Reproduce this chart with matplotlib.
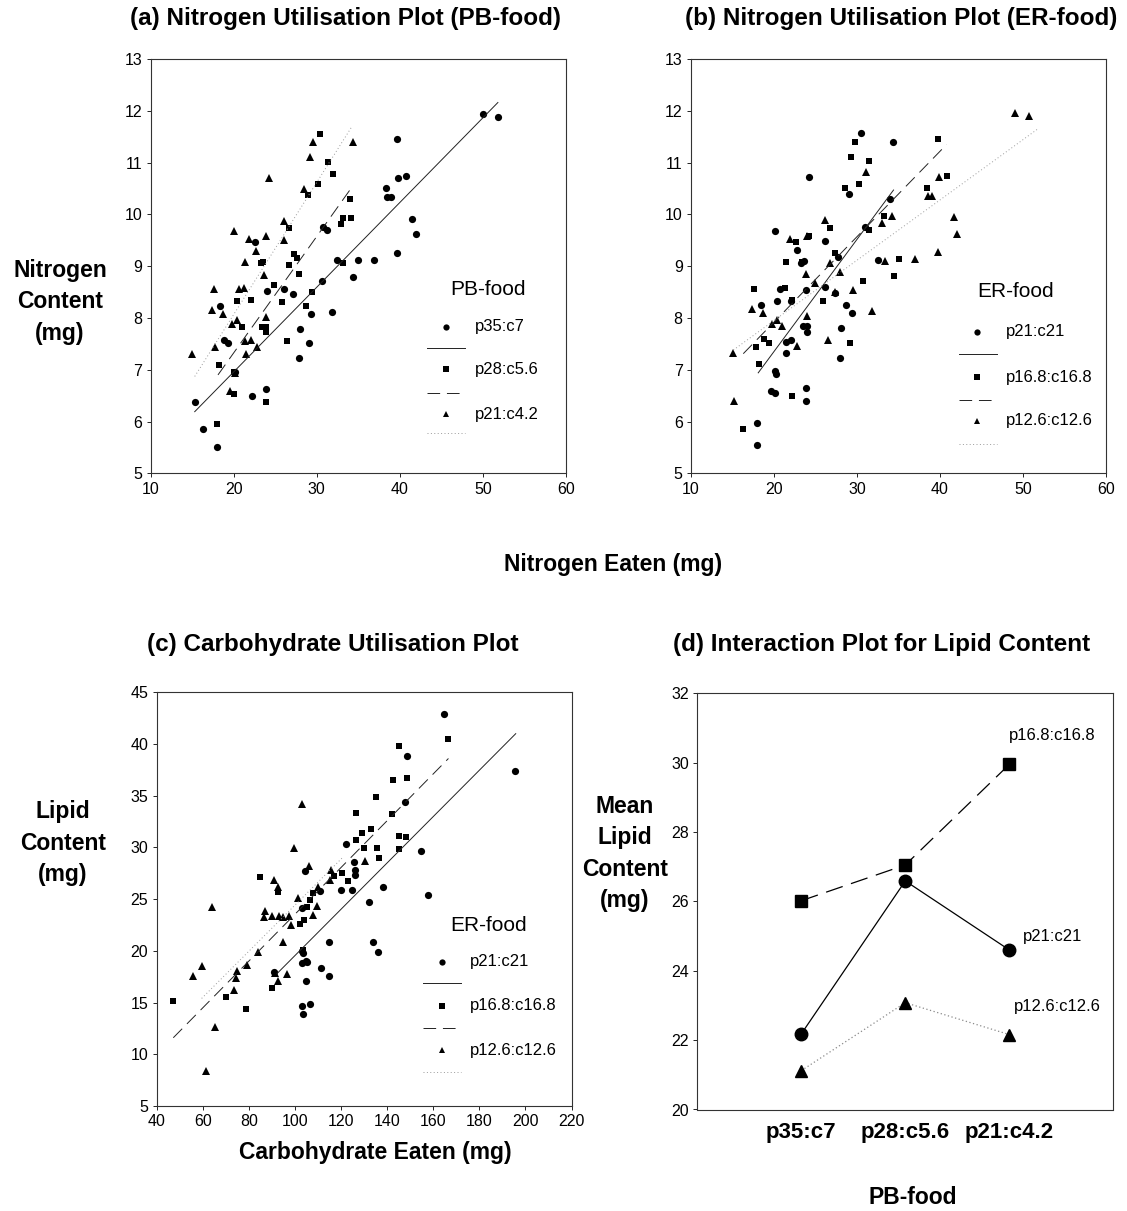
import matplotlib
matplotlib.use("Agg")
import matplotlib.pyplot as plt

plt.rcParams["font.family"] = ["Liberation Sans", "DejaVu Sans"]

W, H = 1127, 1211

# ---- (a) Nitrogen utilisation, PB-food ----
a_p35_x = [50.0, 51.8, 39.6, 39.8, 40.7, 38.3, 38.5, 38.9, 41.5, 42.0, 39.7, 36.9, 34.9, 32.4, 34.4,
           30.8, 31.2, 30.6, 31.8, 29.3, 28.0, 29.0, 27.8, 26.1, 27.1, 24.0, 22.5, 18.4, 18.8, 19.3,
           15.3, 16.3, 18.0, 22.2, 23.9, 20.1]
a_p35_y = [11.94, 11.88, 11.45, 10.70, 10.74, 10.50, 10.33, 10.33, 9.91, 9.62, 9.25, 9.12, 9.12, 9.11, 8.80,
           9.75, 9.70, 8.71, 8.12, 8.07, 7.79, 7.52, 7.22, 8.56, 8.46, 8.52, 9.46, 8.24, 7.58, 7.52,
           6.38, 5.85, 5.51, 6.49, 6.63, 6.96]
a_p28_x = [30.4, 31.3, 32.0, 30.1, 28.9, 34.0, 33.2, 34.1, 32.9, 26.7, 27.3, 27.6, 23.3, 23.5, 26.7,
           27.8, 24.8, 33.2, 29.4, 20.4, 22.1, 25.8, 28.7, 21.0, 23.4, 23.9, 23.9, 26.4, 18.2, 20.0,
           20.0, 23.9, 18.0]
a_p28_y = [11.56, 11.02, 10.78, 10.58, 10.38, 10.29, 9.93, 9.93, 9.82, 9.73, 9.24, 9.16, 9.06, 9.08, 9.03,
           8.85, 8.64, 9.06, 8.51, 8.33, 8.34, 8.30, 8.23, 7.83, 7.83, 7.83, 7.73, 7.55, 7.09, 6.96,
           6.54, 6.38, 5.95]
a_p21_x = [29.6, 34.3, 29.2, 24.2, 28.5, 26.1, 26.1, 20.0, 21.8, 23.9, 22.7, 21.3, 23.7, 17.6, 20.6,
           21.2, 17.4, 18.7, 19.8, 20.4, 23.9, 21.3, 22.1, 17.8, 21.5, 22.8, 15.0, 19.5, 20.2]
a_p21_y = [11.40, 11.40, 11.10, 10.70, 10.49, 9.88, 9.50, 9.67, 9.52, 9.58, 9.30, 9.08, 8.82, 8.55, 8.55,
           8.58, 8.15, 8.07, 7.89, 7.96, 8.02, 7.55, 7.57, 7.43, 7.31, 7.44, 7.31, 6.58, 6.93]
a_fit_x = [[15.3, 51.8], [18.1, 34.2], [15.3, 34.2]]
a_fit_y = [[6.19, 12.16], [6.90, 10.52], [6.87, 11.69]]
a_labels = ["p35:c7", "p28:c5.6", "p21:c4.2"]

# ---- (b) Nitrogen utilisation, ER-food ----
b_p21_x = [30.5, 34.3, 24.2, 29.0, 34.0, 20.1, 31.0, 26.1, 22.8, 23.6, 23.2, 27.7, 32.5, 20.7, 23.9,
           26.2, 27.3, 18.4, 20.4, 22.1, 28.7, 29.4, 23.5, 24.0, 24.0, 28.1, 21.4, 22.1, 21.5, 27.9,
           20.1, 20.2, 19.6, 20.1, 23.9, 23.9, 18.0, 18.0]
b_p21_y = [11.58, 11.40, 10.72, 10.39, 10.29, 9.68, 9.76, 9.49, 9.31, 9.09, 9.07, 9.17, 9.12, 8.55, 8.54,
           8.59, 8.48, 8.25, 8.33, 8.33, 8.25, 8.09, 7.85, 7.85, 7.73, 7.80, 7.54, 7.57, 7.32, 7.23,
           6.98, 6.91, 6.58, 6.55, 6.64, 6.40, 5.97, 5.54]
b_p16_x = [29.7, 39.7, 29.3, 31.4, 40.8, 28.6, 30.2, 38.4, 26.7, 33.3, 31.4, 22.6, 24.2, 27.4, 21.4,
           23.4, 35.0, 30.7, 34.5, 17.6, 21.3, 22.2, 25.9, 18.8, 19.4, 17.8, 29.1, 18.2, 22.2, 16.3]
b_p16_y = [11.40, 11.46, 11.10, 11.03, 10.75, 10.50, 10.59, 10.50, 9.74, 9.96, 9.70, 9.47, 9.59, 9.26, 9.08,
           9.08, 9.13, 8.72, 8.81, 8.55, 8.57, 8.35, 8.32, 7.59, 7.52, 7.43, 7.52, 7.11, 6.50, 5.85]
b_p12_x = [49.0, 50.7, 31.1, 39.9, 38.6, 39.0, 41.7, 42.1, 39.8, 37.0, 33.4, 34.2, 33.0, 26.2, 21.9,
           24.0, 26.8, 23.8, 24.9, 27.9, 29.5, 27.3, 31.8, 17.4, 18.7, 20.4, 21.0, 19.8, 24.0, 22.8,
           26.5, 15.0, 15.2]
b_p12_y = [11.95, 11.90, 10.81, 10.73, 10.36, 10.36, 9.94, 9.63, 9.28, 9.14, 9.09, 9.97, 9.83, 9.90, 9.52,
           9.59, 9.06, 8.85, 8.68, 8.89, 8.54, 8.50, 8.14, 8.17, 8.09, 7.96, 7.85, 7.88, 8.04, 7.46,
           7.58, 7.33, 6.40]
b_fit_x = [[18.1, 34.4], [16.3, 40.8], [15.1, 51.7]]
b_fit_y = [[6.94, 10.47], [7.31, 11.35], [7.38, 11.64]]
er_labels = ["p21:c21", "p16.8:c16.8", "p12.6:c12.6"]

# ---- (c) Carbohydrate utilisation, ER-food ----
c_p21_x = [164.7, 195.5, 148.8, 147.8, 154.7, 157.6, 138.4, 132.1, 134.0, 136.2, 122.0, 125.8, 126.1,
           126.1, 124.6, 120.0, 110.9, 104.4, 102.9, 114.8, 103.0, 103.6, 104.6, 102.9, 105.1, 111.2,
           114.8, 104.8, 102.9, 106.5, 103.4, 90.9]
c_p21_y = [42.87, 37.39, 38.87, 34.36, 29.62, 25.40, 26.14, 24.69, 20.82, 19.86, 30.33, 28.59, 27.82,
           27.33, 25.88, 25.88, 25.82, 27.72, 24.11, 20.89, 19.96, 19.80, 19.00, 18.79, 18.95, 18.37,
           17.60, 17.08, 14.70, 14.86, 13.86, 18.0]
c_p16_x = [166.4, 145.3, 142.6, 148.8, 135.3, 142.1, 126.4, 129.3, 133.0, 126.4, 130.1, 135.5, 136.6,
           145.3, 148.2, 145.3, 122.9, 120.4, 117.1, 84.8, 92.8, 107.7, 106.5, 105.1, 102.2, 104.1,
           103.6, 70.2, 78.9, 89.9, 47.2]
c_p16_y = [40.45, 39.84, 36.52, 36.75, 34.91, 33.20, 33.30, 31.43, 31.78, 30.72, 29.98, 29.98, 29.01,
           31.14, 31.04, 29.82, 26.79, 27.56, 27.20, 27.11, 25.66, 25.56, 24.92, 24.27, 22.60, 22.98,
           20.08, 15.57, 14.38, 16.44, 15.18]
c_p12_x = [103.1, 99.7, 106.1, 130.3, 115.7, 115.3, 110.2, 90.9, 92.8, 101.2, 109.4, 107.7, 87.2,
           86.6, 89.9, 93.1, 95.0, 97.3, 98.4, 94.7, 84.0, 79.3, 74.9, 74.3, 73.7, 64.2, 59.8, 55.9,
           65.5, 92.8, 96.4, 91.4, 61.4]
c_p12_y = [34.17, 29.98, 28.24, 28.69, 27.78, 26.85, 26.14, 26.85, 26.20, 25.08, 24.34, 23.47, 23.85,
           23.30, 23.40, 23.40, 23.30, 23.40, 22.50, 20.89, 19.92, 18.60, 18.05, 17.40, 16.20, 24.21,
           18.53, 17.60, 12.67, 17.08, 17.73, 17.90, 8.40]
c_fit_x = [[92.2, 195.8], [47.2, 166.6], [59.5, 121.0]]
c_fit_y = [[17.8, 41.0], [11.6, 38.6], [15.4, 29.1]]

# ---- (d) interaction plot ----
pb_groups = ["p35:c7", "p28:c5.6", "p21:c4.2"]
d_p21 = [22.18, 26.59, 24.60]
d_p16 = [26.02, 27.05, 29.95]
d_p12 = [21.12, 23.08, 22.16]

MARKERS = ["o", "s", "^"]
LINE_STYLES = ["-", (0, (13, 7)), (0, (1, 2.5))]
LINE_COLORS = ["#222222", "#222222", "#9a9a9a"]


def px_rect(left, top, right, bottom):
    return [left / W, 1 - bottom / H, (right - left) / W, (bottom - top) / H]


def style_axes(ax):
    for sp in ax.spines.values():
        sp.set_linewidth(0.8)
        sp.set_color("#333333")
    ax.tick_params(direction="out", length=3, width=0.6, labelsize=11.5, pad=3, colors="black")


def scatter_panel(ax, xs, ys, fits_x, fits_y):
    sizes = [5.2, 4.6, 5.4]
    for x, y, m, ms in zip(xs, ys, MARKERS, sizes):
        ax.plot(x, y, m, color="black", ms=ms, mew=0, linestyle="none")
    for fx, fy, ls, c in zip(fits_x, fits_y, LINE_STYLES, LINE_COLORS):
        ax.plot(fx, fy, linestyle=ls, color=c, lw=0.7)


def draw_key(ax, title, labels, tx, ty, mx, txt_x, lx, rows):
    ax.text(tx, ty, title, transform=ax.transAxes, ha="center", va="center", fontsize=15)
    for i, lab in enumerate(labels):
        ax.plot([mx], [rows[2 * i]], MARKERS[i], color="black", ms=4.5, mew=0,
                transform=ax.transAxes, clip_on=False)
        ax.text(txt_x, rows[2 * i], lab, transform=ax.transAxes, ha="left", va="center", fontsize=12)
        ax.plot(lx, [rows[2 * i + 1]] * 2, linestyle=LINE_STYLES[i], color=LINE_COLORS[i], lw=0.7,
                transform=ax.transAxes, clip_on=False)


fig = plt.figure(figsize=(W / 100, H / 100), dpi=100)

# (a)
ax_a = fig.add_axes(px_rect(150.7, 59, 566, 473.3))
scatter_panel(ax_a, [a_p35_x, a_p28_x, a_p21_x], [a_p35_y, a_p28_y, a_p21_y], a_fit_x, a_fit_y)
ax_a.set_xlim(10, 60)
ax_a.set_ylim(5, 13)
ax_a.set_xticks(range(10, 61, 10))
ax_a.set_yticks(range(5, 14))
style_axes(ax_a)
draw_key(ax_a, "PB-food", a_labels, 0.813, 0.444, 0.711, 0.781, [0.665, 0.757],
         [0.354, 0.302, 0.251, 0.193, 0.143, 0.097])

# (b)
ax_b = fig.add_axes(px_rect(691, 59, 1106, 473.3))
scatter_panel(ax_b, [b_p21_x, b_p16_x, b_p12_x], [b_p21_y, b_p16_y, b_p12_y], b_fit_x, b_fit_y)
ax_b.set_xlim(10, 60)
ax_b.set_ylim(5, 13)
ax_b.set_xticks(range(10, 61, 10))
ax_b.set_yticks(range(5, 14))
style_axes(ax_b)
draw_key(ax_b, "ER-food", er_labels, 0.783, 0.438, 0.688, 0.759, [0.646, 0.737],
         [0.342, 0.287, 0.232, 0.177, 0.127, 0.071])

# (c)
ax_c = fig.add_axes(px_rect(156.7, 692.3, 571.5, 1106))
scatter_panel(ax_c, [c_p21_x, c_p16_x, c_p12_x], [c_p21_y, c_p16_y, c_p12_y], c_fit_x, c_fit_y)
ax_c.set_xlim(40, 220)
ax_c.set_ylim(5, 45)
ax_c.set_xticks(range(40, 221, 20))
ax_c.set_yticks(range(5, 46, 5))
style_axes(ax_c)
draw_key(ax_c, "ER-food", er_labels, 0.799, 0.4375, 0.687, 0.755, [0.641, 0.733],
         [0.349, 0.297, 0.242, 0.188, 0.135, 0.082])

# (d)
ax_d = fig.add_axes(px_rect(697.3, 693.3, 1113.3, 1109.5))
xpos = range(len(pb_groups))
ax_d.plot(xpos, d_p21, marker="o", ms=9, color="black", lw=0.9, linestyle="-")
ax_d.plot(xpos, d_p16, marker="s", ms=8.5, color="black", lw=0.9, linestyle=(0, (14, 7)))
ax_d.plot(xpos, d_p12, marker="^", ms=9, color="#8a8a8a", lw=0.9, linestyle=(0, (1, 2)),
          markerfacecolor="black", markeredgecolor="black")
ax_d.set_xlim(-1, 3)
ax_d.set_ylim(20, 32)
ax_d.set_yticks(range(20, 33, 2))
ax_d.set_xticks(list(xpos))
ax_d.set_xticklabels(pb_groups, fontweight="bold")
style_axes(ax_d)
ax_d.tick_params(axis="x", length=0, pad=9, labelsize=16)
ax_d.text(2.0, 30.77, er_labels[1], ha="left", va="center", fontsize=12)
ax_d.text(2.13, 25.0, er_labels[0], ha="left", va="center", fontsize=12)
ax_d.text(2.04, 22.96, er_labels[2], ha="left", va="center", fontsize=12)

# titles and labels
title_kw = dict(ha="center", va="center", fontsize=17.5, fontweight="bold")
fig.text(345 / W, 1 - 19 / H, "(a) Nitrogen Utilisation Plot (PB-food)", **title_kw)
fig.text(901 / W, 1 - 19 / H, "(b) Nitrogen Utilisation Plot (ER-food)", **title_kw)
fig.text(333 / W, 1 - 645 / H, "(c) Carbohydrate Utilisation Plot", **title_kw)
fig.text(882 / W, 1 - 645 / H, "(d) Interaction Plot for Lipid Content", **title_kw)

lab_kw = dict(ha="center", va="center", fontsize=16.5, fontweight="bold", multialignment="center",
              linespacing=1.45)
fig.text(60 / W, 1 - 302 / H, "Nitrogen\nContent\n(mg)", **lab_kw)
fig.text(63 / W, 1 - 843 / H, "Lipid\nContent\n(mg)", **lab_kw)
fig.text(625 / W, 1 - 853.5 / H, "Mean\nLipid\nContent\n(mg)", **lab_kw)
fig.text(613 / W, 1 - 565 / H, "Nitrogen Eaten (mg)", **lab_kw)
fig.text(375 / W, 1 - 1152 / H, "Carbohydrate Eaten (mg)", **lab_kw)
fig.text(913 / W, 1 - 1197 / H, "PB-food", **lab_kw)

fig.savefig("out.png", dpi=100)
